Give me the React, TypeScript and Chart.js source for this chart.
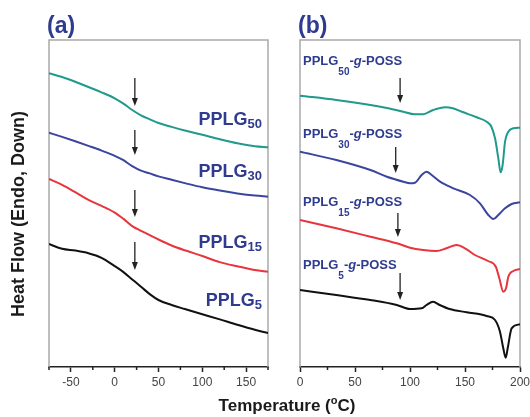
import React, { useEffect, useRef } from 'react';
import { Chart, registerables } from 'chart.js';

Chart.register(...registerables);

// ---------- Panel (a): PPLG homopolymers ----------
const tempsA = [-75, -60, -45, -30, -15, 0, 10, 20, 30, 40, 50, 65, 80, 100, 120, 140, 160, 175];
const pplg50 = [293.7, 290, 285.3, 280, 274.7, 268.7, 263.3, 257, 251.7, 247.7, 244, 240.1, 236.5, 232.2, 227.7, 223.7, 220.8, 219.7];
const pplg30 = [234.3, 230.1, 225.7, 221.1, 216.4, 211.2, 206.8, 200.8, 196.3, 193.6, 190.6, 187.2, 183.9, 179.7, 176.4, 173.6, 171.4, 170.3];
const pplg15 = [188, 182.2, 174.8, 167.2, 161.1, 154.4, 148.1, 140.9, 136.2, 131.9, 127.5, 121.5, 116.7, 111, 104.9, 100.7, 97, 95.2];
const pplg5 = [123, 118.2, 116.4, 113.8, 109.2, 100.9, 94.9, 87.6, 80.3, 72.9, 67, 62, 58, 52.8, 47.6, 42.2, 37.2, 34];

// ---------- Panel (b): PPLG-g-POSS ----------
const temps50g = [0, 33, 64, 79, 94, 104, 112, 121, 132, 139, 148.5, 160.6, 169.7, 174, 177.3, 180.3, 182.4, 184.2, 186.4, 189.4, 194, 200];
const pplg50g = [271.3, 267, 262, 259, 255.3, 252.7, 252.7, 257, 259.7, 258.7, 254.7, 249.7, 245.3, 240.3, 228.7, 208.7, 194.7, 202, 225.3, 235.3, 238.7, 239.3];
const temps30g = [0, 33, 64, 79, 94, 100, 104.5, 110.6, 115, 119.7, 127.3, 139.4, 154.5, 163.6, 171.2, 175.8, 180.3, 186.4, 192.4, 200];
const pplg30g = [215.3, 207, 197, 190.3, 185.3, 183.7, 184.3, 192, 195.3, 192, 185.3, 178.7, 172, 163.7, 152, 148, 152, 158.7, 163, 164.7];
const temps15g = [0, 33, 64, 88, 100, 112, 124, 133, 142.4, 150, 159, 171, 178, 181.2, 184.8, 187.3, 189.4, 194, 200];
const pplg15g = [147, 138.7, 130.3, 123.7, 119.3, 117, 116, 118.7, 122, 118.7, 112, 106, 100.3, 88.7, 75.3, 78.7, 90.3, 96, 98];
const temps5g = [0, 33, 64, 88, 100, 110.6, 115, 121, 127, 136, 151.5, 169.7, 177.3, 181.8, 184.8, 187, 188.8, 192.4, 200];
const pplg5g = [77, 72, 67, 62, 58, 58.7, 62, 65.3, 62, 58, 54.7, 51, 47, 35.3, 18.7, 9.3, 18.7, 38.7, 42.7];

// Glass-transition arrows (temperature, top, bottom in heat-flow units)
const arrowTempA = [23, 23, 23, 23];
const arrowTopA = [289, 237, 177, 125];
const arrowBottomA = [261, 212, 150, 97];
const arrowTempB = [91, 87, 89, 91];
const arrowTopB = [289, 220, 154, 94];
const arrowBottomB = [264, 194, 130, 67];

// Curve labels
const labelSubs = ['50', '30', '15', '5'];
const labelYA = [242, 190, 118.7, 61];
const labelYB = [302, 229.5, 161, 97.7];

const COLORS = ['#1f9a8c', '#3a469e', '#e8343c', '#111111'];
const LABEL_BLUE = '#2f3b8f';
const FONT = '"Liberation Sans", Arial, Helvetica, sans-serif';

type Part = { text: string; font: string; dy?: number };

function drawRich(ctx: CanvasRenderingContext2D, parts: Part[], x: number, y: number, align: 'left' | 'right') {
  let total = 0;
  for (const p of parts) {
    ctx.font = p.font;
    total += ctx.measureText(p.text).width;
  }
  let cx = align === 'right' ? x - total : x;
  ctx.textAlign = 'left';
  ctx.textBaseline = 'alphabetic';
  for (const p of parts) {
    ctx.font = p.font;
    ctx.fillText(p.text, cx, y + (p.dy || 0));
    cx += ctx.measureText(p.text).width;
  }
}

function drawArrow(ctx: CanvasRenderingContext2D, x: number, y1: number, y2: number) {
  ctx.save();
  ctx.strokeStyle = '#222';
  ctx.fillStyle = '#222';
  ctx.lineWidth = 1.3;
  ctx.beginPath();
  ctx.moveTo(x, y1);
  ctx.lineTo(x, y2 - 6);
  ctx.stroke();
  ctx.beginPath();
  ctx.moveTo(x - 3, y2 - 8);
  ctx.lineTo(x + 3, y2 - 8);
  ctx.lineTo(x, y2);
  ctx.closePath();
  ctx.fill();
  ctx.restore();
}

const framePlugin = {
  id: 'frame',
  beforeDatasetsDraw(chart: any) {
    const { ctx, chartArea } = chart;
    const { left, right, top, bottom } = chartArea;
    ctx.save();
    ctx.strokeStyle = '#a9a9a9';
    ctx.lineWidth = 1.5;
    ctx.beginPath();
    ctx.moveTo(left, bottom);
    ctx.lineTo(left, top);
    ctx.lineTo(right, top);
    ctx.lineTo(right, bottom);
    ctx.stroke();
    ctx.restore();
  },
  afterDraw(chart: any) {
    const { ctx, chartArea } = chart;
    const xs = chart.scales.x;
    ctx.save();
    ctx.strokeStyle = '#222';
    ctx.lineWidth = 1.5;
    for (const t of xs.ticks) {
      if (t.value % 50 !== 0) {
        const px = xs.getPixelForValue(t.value);
        ctx.beginPath();
        ctx.moveTo(px, chartArea.bottom);
        ctx.lineTo(px, chartArea.bottom + 3);
        ctx.stroke();
      }
    }
    ctx.restore();
  },
};

function makeAnnotPlugin(panel: 'a' | 'b') {
  return {
    id: 'annot' + panel,
    afterDraw(chart: any) {
      const { ctx, chartArea } = chart;
      const xs = chart.scales.x;
      const ys = chart.scales.y;
      ctx.save();
      // panel letter
      ctx.fillStyle = LABEL_BLUE;
      ctx.font = `bold 23px ${FONT}`;
      ctx.textAlign = 'left';
      ctx.textBaseline = 'alphabetic';
      ctx.fillText(panel === 'a' ? '(a)' : '(b)', chartArea.left - 2, 33);

      const temps = panel === 'a' ? arrowTempA : arrowTempB;
      const tops = panel === 'a' ? arrowTopA : arrowTopB;
      const bots = panel === 'a' ? arrowBottomA : arrowBottomB;
      temps.forEach((t, i) => {
        drawArrow(ctx, xs.getPixelForValue(t), ys.getPixelForValue(tops[i]), ys.getPixelForValue(bots[i]));
      });

      ctx.fillStyle = LABEL_BLUE;
      if (panel === 'a') {
        labelSubs.forEach((s, i) => {
          drawRich(
            ctx,
            [
              { text: 'PPLG', font: `bold 18px ${FONT}` },
              { text: s, font: `bold 13px ${FONT}`, dy: 3 },
            ],
            xs.getPixelForValue(168),
            ys.getPixelForValue(labelYA[i]),
            'right'
          );
        });
      } else {
        labelSubs.forEach((s, i) => {
          drawRich(
            ctx,
            [
              { text: 'PPLG', font: `bold 13px ${FONT}` },
              { text: s, font: `bold 10px ${FONT}`, dy: 10 },
              { text: '-', font: `bold 13px ${FONT}` },
              { text: 'g', font: `italic bold 13px ${FONT}` },
              { text: '-POSS', font: `bold 13px ${FONT}` },
            ],
            xs.getPixelForValue(2.7),
            ys.getPixelForValue(labelYB[i]),
            'left'
          );
        });
      }

      if (panel === 'a') {
        // shared axis titles
        ctx.fillStyle = '#1a1a1a';
        ctx.save();
        ctx.translate(19, 214);
        ctx.rotate(-Math.PI / 2);
        ctx.font = `bold 18px ${FONT}`;
        ctx.textAlign = 'center';
        ctx.textBaseline = 'middle';
        ctx.fillText('Heat Flow (Endo, Down)', 0, 0);
        ctx.restore();

        const parts: Part[] = [
          { text: 'Temperature (', font: `bold 17px ${FONT}` },
          { text: 'o', font: `bold 11px ${FONT}`, dy: -7 },
          { text: 'C)', font: `bold 17px ${FONT}` },
        ];
        let total = 0;
        for (const p of parts) {
          ctx.font = p.font;
          total += ctx.measureText(p.text).width;
        }
        drawRich(ctx, parts, 287 - total / 2, 411, 'left');
      }
      ctx.restore();
    },
  };
}

function makeConfig(panel: 'a' | 'b'): any {
  const series =
    panel === 'a'
      ? [
          { temps: tempsA, values: pplg50 },
          { temps: tempsA, values: pplg30 },
          { temps: tempsA, values: pplg15 },
          { temps: tempsA, values: pplg5 },
        ]
      : [
          { temps: temps50g, values: pplg50g },
          { temps: temps30g, values: pplg30g },
          { temps: temps15g, values: pplg15g },
          { temps: temps5g, values: pplg5g },
        ];
  return {
    type: 'line',
    data: {
      datasets: series.map((s, k) => ({
        data: s.temps.map((t, i) => ({ x: t, y: s.values[i] })),
        borderColor: COLORS[k],
        borderWidth: 2,
        pointRadius: 0,
        fill: false,
        cubicInterpolationMode: 'monotone',
      })),
    },
    options: {
      responsive: false,
      animation: false,
      events: [],
      layout: {
        padding: panel === 'a' ? { left: 49, right: 262, top: 40, bottom: 20 } : { left: 300, right: 10, top: 40, bottom: 20 },
      },
      plugins: { legend: { display: false }, tooltip: { enabled: false }, title: { display: false } },
      scales: {
        x: {
          type: 'linear',
          min: panel === 'a' ? -75 : 0,
          max: panel === 'a' ? 175 : 200,
          afterFit: (s: any) => {
            s.height = 30;
            s.paddingLeft = 0;
            s.paddingRight = 0;
          },
          border: { display: true, color: '#222', width: 1.5 },
          grid: {
            drawOnChartArea: false,
            drawTicks: true,
            tickLength: 5,
            tickWidth: 1.5,
            tickColor: (c: any) => (c.tick && c.tick.value % 50 === 0 ? '#222' : 'rgba(0,0,0,0)'),
          },
          ticks: {
            stepSize: 25,
            autoSkip: false,
            maxRotation: 0,
            minRotation: 0,
            padding: 3,
            color: '#444',
            font: { family: FONT, size: 12 },
            callback: (v: any) => (Number(v) % 50 === 0 ? String(v) : ''),
          },
        },
        y: { type: 'linear', display: false, min: 0, max: 327 },
      },
    },
    plugins: [framePlugin, makeAnnotPlugin(panel)],
  };
}

function Panel({ panel }: { panel: 'a' | 'b' }) {
  const ref = useRef<HTMLCanvasElement | null>(null);
  useEffect(() => {
    if (!ref.current) return;
    const chart = new Chart(ref.current, makeConfig(panel));
    return () => chart.destroy();
  }, [panel]);
  return (
    <canvas
      ref={ref}
      width={530}
      height={417}
      style={{ position: 'absolute', left: 0, top: 0, width: 530, height: 417 }}
    />
  );
}

export default function App() {
  return (
    <div style={{ position: 'fixed', left: 0, top: 0, width: 530, height: 417, background: '#fff' }}>
      <Panel panel="a" />
      <Panel panel="b" />
    </div>
  );
}
